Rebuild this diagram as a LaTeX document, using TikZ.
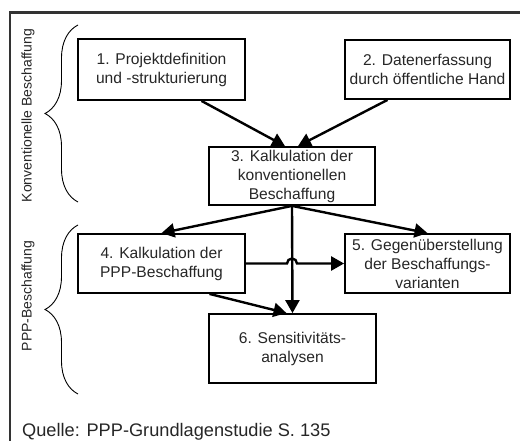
\documentclass[tikz,border=0pt]{standalone}
\usepackage{fontspec}
\setmainfont{Liberation Sans}
\usetikzlibrary{arrows.meta,decorations.pathreplacing,calc}
\tikzset{
  stepbox/.style={draw=black, line width=1.8pt, align=center, inner sep=0pt,
    font=\fontsize{15.6}{19}\selectfont, text=black!85},
  flow/.style={line width=2.4pt, -{Triangle[length=13pt,width=14pt]}},
  bracestyle/.style={decorate, decoration={brace, amplitude=33pt}, line width=0.9pt},
  sidelabel/.style={rotate=90, font=\fontsize{14}{16}\selectfont, text=black!85},
}
\begin{document}
\begin{tikzpicture}[x=1pt,y=1pt]
\useasboundingbox (0,0) rectangle (520,-441);
% frame
\draw[line width=2.2pt, black!80] (10,-441) -- (10,-12.5) -- (520,-12.5);
% boxes
\node[stepbox, minimum width=167pt, minimum height=61pt] (b1) at (161.5,-69.5)
  {1. Projektdefinition\\und -strukturierung};
\node[stepbox, minimum width=165pt, minimum height=59pt] (b2) at (427.5,-69.5)
  {2. Datenerfassung\\durch öffentliche Hand};
\node[stepbox, minimum width=166pt, minimum height=58pt] (b3) at (292,-176)
  {3. Kalkulation der\\konventionellen\\Beschaffung};
\node[stepbox, minimum width=167pt, minimum height=59pt] (b4) at (161.5,-263.5)
  {4. Kalkulation der\\PPP-Beschaffung};
\node[stepbox, minimum width=165pt, minimum height=59pt] (b5) at (427.5,-263.5)
  {5. Gegenüberstellung\\der Beschaffungs-\\varianten};
\node[stepbox, minimum width=167pt, minimum height=69pt] (b6) at (292.5,-348.5)
  {6. Sensitivitäts-\\analysen};
% connectors
\draw[flow] ([xshift=40pt]b1.south) -- ([xshift=-7pt]b3.north);
\draw[flow] ([xshift=-40pt]b2.south) -- ([xshift=6pt]b3.north);
\draw[flow] (b3.south) -- (b4.north);
\draw[flow] (b3.south) -- (b5.north);
\draw[flow] (b3.south) -- (b6.north);
\draw[flow] ([xshift=48pt]b4.south) -- ([xshift=-6pt]b6.north);
\draw[flow] (b4.east) -- ($(b4.east -| b3.south)+(-5,0)$) arc (180:0:5) -- (b5.west);
% braces
\coordinate (t1) at (78,-202);
\coordinate (t2) at (78,-25);
\coordinate (p1) at (78,-394);
\coordinate (p2) at (78,-225);
\draw[bracestyle] (t1) -- (t2);
\draw[bracestyle] (p1) -- (p2);
% side labels
\node[sidelabel] (l1) at (28,-115.5) {Konventionelle Beschaffung};
\node[sidelabel] (l2) at (28,-296) {PPP-Beschaffung};
% source
\node[anchor=base west, font=\fontsize{18.2}{20}\selectfont, text=black!85, inner sep=0pt] (src) at (22,-436)
  {Quelle: PPP-Grundlagenstudie S. 135};
\end{tikzpicture}
\end{document}
